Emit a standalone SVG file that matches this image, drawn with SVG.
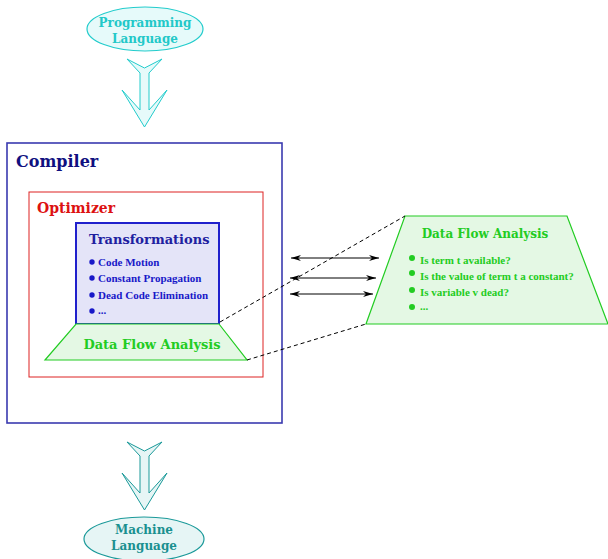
<svg xmlns="http://www.w3.org/2000/svg" width="608" height="559" viewBox="0 0 608 559">
<defs>
<style>
.big{font-family:"DejaVu Serif","Liberation Serif",serif;font-weight:bold}
.sm{font-family:"Liberation Serif","DejaVu Serif",serif;font-weight:bold;font-size:11px}
.cyan{fill:#22c8c8}
.teal{fill:#1a9090}
.green{fill:#22cc22}
.dash{stroke:#000;stroke-width:1;stroke-dasharray:4 3;fill:none}
.dbl{stroke:#000;stroke-width:1;fill:none;marker-start:url(#ah);marker-end:url(#ah)}
</style>
<marker id="ah" viewBox="0 0 10 6" refX="10" refY="3" markerWidth="10" markerHeight="6" markerUnits="userSpaceOnUse" orient="auto-start-reverse">
<path d="M0,0 L10,3 L0,6 L3,3 Z" fill="#000"/>
</marker>
</defs>
<g id="programming-language">
<ellipse cx="145" cy="29" rx="58" ry="22" fill="#e6fafa" stroke="#22cccc" stroke-width="1.2"/>
<text class="big cyan" x="145" y="27" font-size="12" text-anchor="middle">Programming</text>
<text class="big cyan" x="145" y="43" font-size="12" text-anchor="middle">Language</text>
</g>
<g id="arrow-in">
<polygon points="127,59 144.5,68 162,59 149,73 149,110 167,90 144.5,127 122,90 140,110 140,73" fill="#e6fafa" stroke="#22cccc" stroke-width="1"/>
</g>
<g id="compiler">
<rect x="7" y="143" width="275" height="280" fill="none" stroke="#3a3ab0" stroke-width="1.6"/>
<text class="big" x="16" y="167" font-size="16" fill="#101080">Compiler</text>
</g>
<g id="optimizer">
<rect x="29" y="192" width="234" height="185" fill="none" stroke="#dd2222" stroke-width="1"/>
<text class="big" x="37" y="213" font-size="14" fill="#dd1111">Optimizer</text>
</g>
<g id="transformations">
<rect x="76" y="223" width="143" height="101" fill="#e4e4f8" stroke="#2020cc" stroke-width="2"/>
<text class="big" x="89" y="244" font-size="13" fill="#2020a0">Transformations</text>
<g fill="#1818c8">
<circle cx="92" cy="262" r="2.7"/>
<circle cx="92" cy="278" r="2.7"/>
<circle cx="92" cy="295" r="2.7"/>
<circle cx="92" cy="311" r="2.7"/>
<text class="sm" x="98" y="266" font-size="10.5">Code Motion</text>
<text class="sm" x="98" y="282" font-size="10.5">Constant Propagation</text>
<text class="sm" x="98" y="299" font-size="10.5">Dead Code Elimination</text>
<text class="sm" x="98" y="314" font-size="10.5">...</text>
</g>
</g>
<g id="dfa-small">
<polygon points="76,324 219,324 247,360 45,360" fill="#e4f8e4" stroke="#22cc22" stroke-width="1.2"/>
<text class="big green" x="152" y="349" font-size="13" text-anchor="middle">Data Flow Analysis</text>
</g>
<g id="dfa-detail">
<polygon points="405,216 567,216 608,324 366,324" fill="#e4f8e4" stroke="#22cc22" stroke-width="1.2"/>
<text class="big green" x="485" y="238" font-size="12" text-anchor="middle">Data Flow Analysis</text>
<g class="green">
<circle cx="412" cy="258" r="3"/>
<circle cx="412" cy="273" r="3"/>
<circle cx="412" cy="290" r="3"/>
<circle cx="412" cy="307" r="3"/>
<text class="sm" x="420" y="264">Is term t available?</text>
<text class="sm" x="420" y="280">Is the value of term t a constant?</text>
<text class="sm" x="420" y="296">Is variable v dead?</text>
<text class="sm" x="420" y="310">...</text>
</g>
</g>
<g id="connectors">
<line class="dbl" x1="291" y1="258" x2="379" y2="258"/>
<line class="dbl" x1="290" y1="278" x2="376" y2="278"/>
<line class="dbl" x1="290" y1="294" x2="373" y2="294"/>
<line class="dash" x1="220" y1="322" x2="405" y2="216"/>
<line class="dash" x1="247" y1="360" x2="366" y2="324"/>
</g>
<g id="arrow-out">
<polygon points="127,442 144.5,451 162,442 149,456 149,493 167,473 144.5,510 122,473 140,493 140,456" fill="#e6f5f5" stroke="#1a9999" stroke-width="1"/>
</g>
<g id="machine-language">
<ellipse cx="144" cy="539" rx="60" ry="22" fill="#e6f5f5" stroke="#1a9999" stroke-width="1.2"/>
<text class="big teal" x="144" y="534" font-size="12" text-anchor="middle">Machine</text>
<text class="big teal" x="144" y="550" font-size="12" text-anchor="middle">Language</text>
</g>
</svg>
